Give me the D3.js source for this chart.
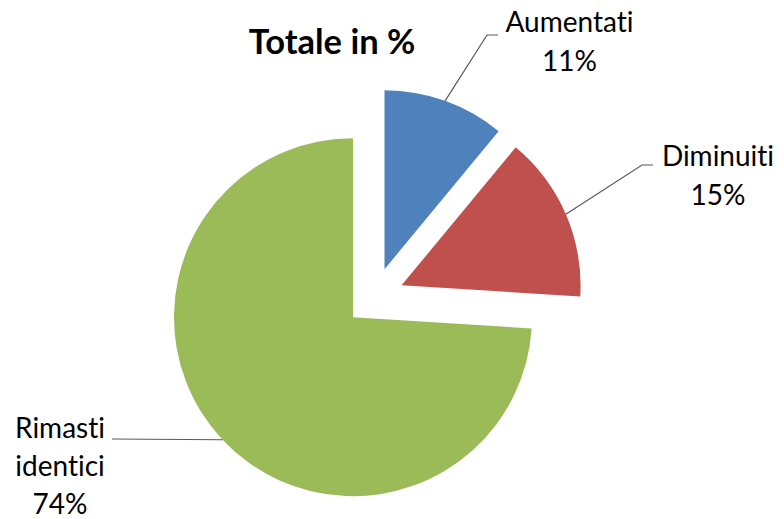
<!DOCTYPE html>
<html>
<head>
<meta charset="utf-8">
<script src="https://cdn.jsdelivr.net/npm/d3@7"></script>
<style>
  html, body { margin: 0; padding: 0; background: #fff; }
  text { font-family: Lato, "Open Sans", sans-serif; fill: #000; font-variant-ligatures: none; }
</style>
</head>
<body>
<div id="chart"></div>
<script>
// data
const categories = ['Aumentati', 'Diminuiti', 'Rimasti identici'];
const values = [11, 15, 74];
const colors = ['#4F81BD', '#C0504D', '#9BBB59'];
const title = 'Totale in %';

const width = 784;
const height = 519;
const radius = 179;
const explode = 29.5;
const cx = 374.5, cy = 297;

const svg = d3.select('#chart')
    .append('svg')
    .attr('width', width)
    .attr('height', height);

const total = d3.sum(values);
const rows = categories.map((c, i) => ({ name: c, value: values[i], color: colors[i] }));

const pie = d3.pie().value(d => d.value).sort(null);
const arc = d3.arc().outerRadius(radius).innerRadius(0);

const g = svg.append('g').attr('transform', `translate(${cx},${cy})`);

// offset of each exploded slice along its bisector
const shift = d => {
    const a = (d.startAngle + d.endAngle) / 2;
    return [Math.sin(a) * explode, -Math.cos(a) * explode];
};

const slices = g.selectAll('g.slice')
    .data(pie(rows))
    .enter()
    .append('g')
    .attr('class', 'slice')
    .attr('transform', d => `translate(${shift(d)})`);

slices.append('path')
    .attr('d', arc)
    .attr('fill', d => d.data.color);

// labels (placed by hand like in the original)
const labelPos = [
    { x: 569.5, y: 32, dy: 38.5, lines: ['Aumentati'], bend: [[487, 35], [498, 35]] },
    { x: 718, y: 166, dy: 38.5, lines: ['Diminuiti'], bend: [[642, 165], [653, 165]] },
    { x: 60, y: 438, dy: 38, lines: ['Rimasti', 'identici'], bend: [[112, 439]] }
];

pie(rows).forEach((d, i) => {
    const a = (d.startAngle + d.endAngle) / 2;
    const s = shift(d);
    const start = [cx + s[0] + Math.sin(a) * radius, cy + s[1] - Math.cos(a) * radius];
    const p = labelPos[i];
    const pts = [start].concat(p.bend);
    svg.append('path')
        .attr('d', d3.line()(pts))
        .attr('fill', 'none')
        .attr('stroke', '#595959')
        .attr('stroke-width', 1.2);

    const t = svg.append('text')
        .attr('text-anchor', 'middle')
        .attr('font-size', 28);
    const lines = p.lines.concat([Math.round(d.data.value / total * 100) + '%']);
    lines.forEach((l, j) => {
        t.append('tspan')
            .attr('x', p.x)
            .attr('y', p.y + j * p.dy)
            .text(l);
    });
});

svg.append('text')
    .attr('x', 332)
    .attr('y', 54)
    .attr('text-anchor', 'middle')
    .attr('font-size', 34.5)
    .attr('font-weight', 'bold')
    .text(title);
</script>
</body>
</html>
